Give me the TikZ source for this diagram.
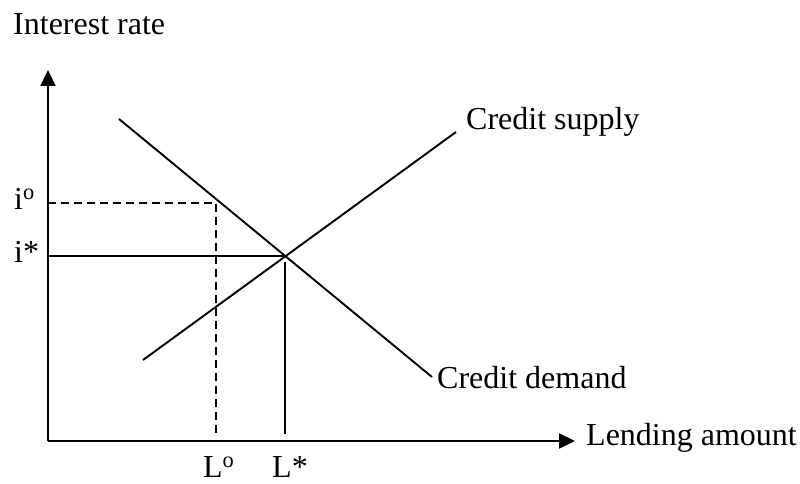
\documentclass[tikz,border=0pt]{standalone}
\usepackage{fontspec}
\setmainfont{Liberation Serif}
\usetikzlibrary{arrows.meta}
\begin{document}
\begin{tikzpicture}[x=1pt,y=-1pt,
  ln/.style={line width=1.9pt},
  axis/.style={line width=2.2pt,-{Triangle[width=15pt,length=16pt]}},
  dsh/.style={line width=1.9pt,dash pattern=on 8pt off 5pt},
  lbl/.style={anchor=base west,inner sep=0pt,font=\fontsize{32}{38}\selectfont}]
\useasboundingbox (0,0) rectangle (800,484);
% coordinates
\coordinate (O) at (48,441);
\coordinate (Ytop) at (48,70);
\coordinate (Xend) at (575,441);
\coordinate (D1) at (119,119);
\coordinate (D2) at (432,377);
\coordinate (S1) at (143,360);
\coordinate (S2) at (456,132);
\coordinate (E) at (285,256);
\coordinate (Ei) at (48,256);
\coordinate (Eb) at (285,262);
\coordinate (Ea) at (285,434);
\coordinate (Io) at (48,203);
\coordinate (Pc) at (216,203);
\coordinate (Pa) at (216,437);
% axes
\draw[axis] (O) -- (Ytop);
\draw[axis] (O) -- (Xend);
% curves
\draw[ln] (D1) -- (D2);
\draw[ln] (S1) -- (S2);
% equilibrium
\draw[ln] (Ei) -- (E);
\draw[ln] (Eb) -- (Ea);
% dashed
\draw[dsh] (Io) -- (Pc) -- (Pa);
% labels
\node[lbl] (ylab) at (13,35) {Interest rate};
\node[lbl] (xlab) at (586,445) {Lending amount};
\node[lbl] (sup) at (466,130) {Credit supply};
\node[lbl] (dem) at (437,388) {Credit demand};
\node[lbl] (io) at (14,209) {i\textsuperscript{o}};
\node[lbl] (is) at (14,262) {i*};
\node[lbl] (lo) at (203,477) {L\textsuperscript{o}};
\node[lbl] (ls) at (272,477) {L*};
\end{tikzpicture}
\end{document}
